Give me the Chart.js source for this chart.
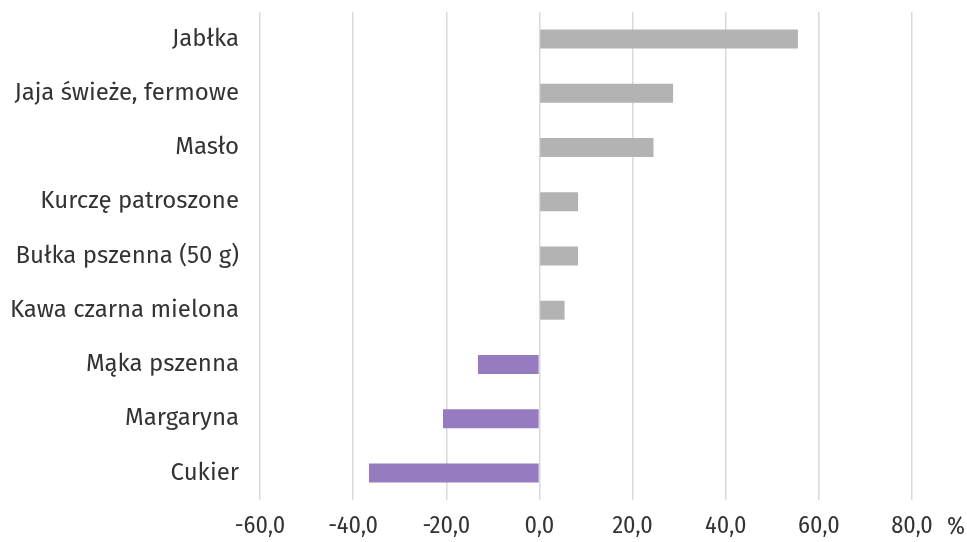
<!DOCTYPE html>
<html>
<head>
<meta charset="utf-8">
<script src="https://cdn.jsdelivr.net/npm/chart.js@4"></script>
<style>
  html, body { margin: 0; padding: 0; background: #fff; }
  #wrap { width: 967px; height: 542px; }
</style>
</head>
<body>
<div id="wrap"><canvas id="zmianyCen"></canvas></div>
<script>
// --- DANE ---
const kategorie = ['Jabłka', 'Jaja świeże, fermowe', 'Masło', 'Kurczę patroszone',
    'Bułka pszenna (50 g)', 'Kawa czarna mielona', 'Mąka pszenna', 'Margaryna', 'Cukier'];
const zmiany = [55.5, 28.7, 24.5, 8.3, 8.3, 5.4, -13.2, -20.7, -36.6];
const osX = { min: -60, max: 80, krok: 20 };
const jednostka = '%';

const kolorWzrost = '#b3b3b3';
const kolorSpadek = '#967bc0';
const czcionkaOsiX = '"Fira Sans Condensed", "Fira Sans", Lato, sans-serif';
const czcionkaOsiY = '"Fira Sans", Lato, sans-serif';

// "%" obok ostatniej etykiety osi X
const procentPlugin = {
    id: 'procent',
    afterDraw(chart) {
        const ctx = chart.ctx;
        ctx.save();
        ctx.font = '24px ' + czcionkaOsiX;
        ctx.fillStyle = '#333';
        ctx.textAlign = 'left';
        ctx.textBaseline = 'middle';
        ctx.fillText(jednostka, chart.scales.x.getPixelForValue(osX.max) + 35, 527);
        ctx.restore();
    }
};

const ctx = document.getElementById('zmianyCen');
new Chart(ctx, {
    type: 'bar',
    data: {
        labels: kategorie,
        datasets: [{
            data: zmiany,
            backgroundColor: zmiany.map(v => v >= 0 ? kolorWzrost : kolorSpadek),
            barPercentage: 0.35,
            categoryPercentage: 1.0
        }]
    },
    options: {
        indexAxis: 'y',
        responsive: true,
        maintainAspectRatio: false,
        animation: false,
        layout: { padding: { top: 12, right: 55, bottom: 0, left: 0 } },
        plugins: {
            legend: { display: false },
            tooltip: { enabled: false }
        },
        scales: {
            x: {
                min: osX.min,
                max: osX.max,
                afterFit: s => { s.height = 42; s.paddingLeft = 0; s.paddingRight = 0; },
                ticks: {
                    stepSize: osX.krok,
                    padding: 12,
                    color: '#333',
                    maxRotation: 0,
                    font: { family: czcionkaOsiX, size: 24 },
                    callback: v => v.toFixed(1).replace('.', ',')
                },
                grid: { color: '#d9d9d9', lineWidth: 1.5, drawTicks: false },
                border: { display: false }
            },
            y: {
                afterFit: s => { s.width = 260; s.paddingTop = 0; s.paddingBottom = 0; },
                ticks: {
                    padding: 21,
                    color: '#333',
                    font: { family: czcionkaOsiY, size: 24 }
                },
                grid: { display: false, drawTicks: false },
                border: { display: false }
            }
        }
    },
    plugins: [procentPlugin]
});
</script>
</body>
</html>
